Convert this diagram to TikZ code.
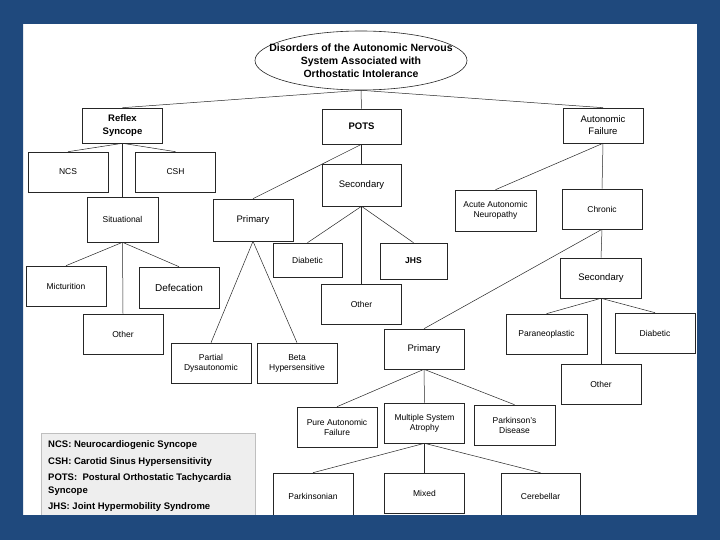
\documentclass[tikz,border=0pt]{standalone}
\usepackage{fontspec}
\setmainfont{Liberation Sans}
\usetikzlibrary{shapes.geometric}
\definecolor{panelblue}{RGB}{31,73,125}
\definecolor{legendgray}{RGB}{238,238,238}

\begin{document}
\begin{tikzpicture}[x=1pt,y=-1pt,
    box/.style={draw=black!85, fill=white, line width=0.6pt, minimum width=80pt,
      minimum height=40pt, inner sep=1pt, align=center, font=\fontsize{8.5}{10}\selectfont},
    boldbox/.style={box, font=\fontsize{9.5}{13}\selectfont\bfseries},
    midbox/.style={box, font=\fontsize{9.5}{12}\selectfont},
    link/.style={draw=black!85, line width=0.5pt},
    legend/.style={anchor=north west, inner sep=0pt, align=left,
      font=\fontsize{9.5}{12.5}\selectfont\bfseries}]

    \useasboundingbox (0,0) rectangle (720,540);

    % White panel
    \fill[white] (23,24) rectangle (697,515);

    % Root
    \node[ellipse, draw=black!85, line width=0.6pt, minimum width=212pt, minimum height=59pt,
      inner xsep=-20pt, inner ysep=0pt, align=center,
      font=\fontsize{10.5}{13}\selectfont\bfseries] (root) at (361,60.5)
      {Disorders of the Autonomic Nervous\\System Associated with\\Orthostatic Intolerance};

    % First level
    \node[boldbox, minimum height=35pt] (reflex) at (122.5,125.5) {Reflex\\Syncope};
    \node[boldbox, minimum height=35pt, minimum width=79pt] (pots) at (361.5,126.5) {POTS};
    \node[midbox, minimum height=35pt, font=\fontsize{9.5}{12}\selectfont] (af) at (603,125.5) {Autonomic\\Failure};

    % Reflex syncope branch
    \node[box] (ncs) at (68,172) {NCS};
    \node[box] (csh) at (175.5,172) {CSH};
    \node[box, minimum width=71pt, minimum height=45pt] (situ) at (122.5,219.5) {Situational};
    \node[box] (mict) at (66,286) {Micturition};
    \node[box, minimum height=41pt, font=\fontsize{10}{12}\selectfont] (defec) at (179,287.5) {Defecation};
    \node[box] (other2) at (123,334) {Other};

    % POTS branch
    \node[midbox, minimum height=42pt] (prim1) at (253,220) {Primary};
    \node[midbox, minimum width=79pt, minimum height=42pt] (sec1) at (361.5,185) {Secondary};
    \node[box, minimum width=69pt, minimum height=34pt] (diab1) at (307.5,260) {Diabetic};
    \node[boldbox, font=\fontsize{8.5}{10}\selectfont\bfseries, minimum width=67pt, minimum height=36pt] (jhs) at (413.5,261) {JHS};
    \node[box] (other1) at (361.5,304) {Other};
    \node[box] (partial) at (211,363) {Partial\\Dysautonomic};
    \node[box] (beta) at (297,363) {Beta\\Hypersensitive};

    % Autonomic failure branch
    \node[box, minimum width=81pt, minimum height=41pt] (acute) at (495.5,210.5) {Acute Autonomic\\Neuropathy};
    \node[box] (chronic) at (602,209) {Chronic};
    \node[midbox, minimum width=81pt] (sec2) at (601,278) {Secondary};
    \node[midbox] (prim2) at (424,349) {Primary};
    \node[box, minimum width=81pt] (para) at (546.5,334) {Paraneoplastic};
    \node[box] (diab2) at (655,333) {Diabetic};
    \node[box] (other3) at (601,384) {Other};
    \node[box] (pure) at (337,427) {Pure Autonomic\\Failure};
    \node[box] (msa) at (424.5,423) {Multiple System\\Atrophy};
    \node[box, minimum width=81pt] (park) at (514.5,425) {Parkinson's\\Disease};
    \node[box, minimum height=46pt] (parkinsonian) at (313,496) {Parkinsonian};
    \node[box] (mixed) at (424.5,493) {Mixed};
    \node[box, minimum width=79pt, minimum height=46pt] (cereb) at (540.5,496) {Cerebellar};

    % Connectors
    \draw[link] (root.south) -- (reflex.north);
    \draw[link] (root.south) -- (pots.north);
    \draw[link] (root.south) -- (af.north);
    \draw[link] (reflex.south) -- (ncs.north);
    \draw[link] (reflex.south) -- (csh.north);
    \draw[link] (reflex.south) -- (situ.north);
    \draw[link] (situ.south) -- (mict.north);
    \draw[link] (situ.south) -- (other2.north);
    \draw[link] (situ.south) -- (defec.north);
    \draw[link] (pots.south) -- (prim1.north);
    \draw[link] (pots.south) -- (sec1.north);
    \draw[link] (sec1.south) -- (diab1.north);
    \draw[link] (sec1.south) -- (other1.north);
    \draw[link] (sec1.south) -- (jhs.north);
    \draw[link] (prim1.south) -- (partial.north);
    \draw[link] (prim1.south) -- (beta.north);
    \draw[link] (af.south) -- (acute.north);
    \draw[link] (af.south) -- (chronic.north);
    \draw[link] (chronic.south) -- (prim2.north);
    \draw[link] (chronic.south) -- (sec2.north);
    \draw[link] (sec2.south) -- (para.north);
    \draw[link] (sec2.south) -- (other3.north);
    \draw[link] (sec2.south) -- (diab2.north);
    \draw[link] (prim2.south) -- (pure.north);
    \draw[link] (prim2.south) -- (msa.north);
    \draw[link] (prim2.south) -- (park.north);
    \draw[link] (msa.south) -- (parkinsonian.north);
    \draw[link] (msa.south) -- (mixed.north);
    \draw[link] (msa.south) -- (cereb.north);

    % Legend
    \fill[legendgray] (41,433) rectangle (255,520);
    \draw[black!25] (41,520) -- (41,433) -- (255,433) -- (255,520);
    \node[legend] (legncs) at (48,440) {NCS: Neurocardiogenic Syncope};
    \node[legend] (legcsh) at (48,457) {CSH: Carotid Sinus Hypersensitivity};
    \node[legend] (legpots) at (48,473.5) {POTS:\ \ Postural Orthostatic Tachycardia\\Syncope};
    \node[legend] (legjhs) at (48,502) {JHS: Joint Hypermobility Syndrome};

    % Blue frame
    \fill[panelblue, even odd rule] (0,0) rectangle (720,540) (23,24) rectangle (697,515);

\end{tikzpicture}
\end{document}
